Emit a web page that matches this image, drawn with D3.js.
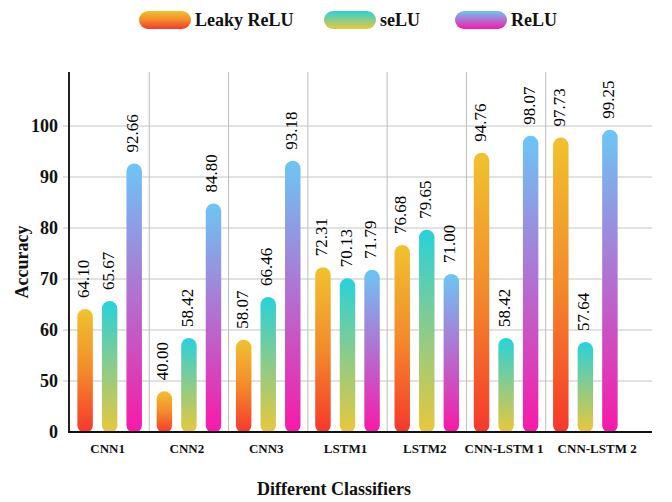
<!DOCTYPE html>
<html>
<head>
<meta charset="utf-8">
<script src="https://cdn.jsdelivr.net/npm/d3@7"></script>
<style>
  body { margin: 0; background: #fff; }
  svg text { font-family: "Liberation Serif", "Times New Roman", serif; }
</style>
</head>
<body>
<div id="chart"></div>
<script>
    const WIDTH = 672;
    const HEIGHT = 502;

    // data
    const classifiers = ["CNN1", "CNN2", "CNN3", "LSTM1", "LSTM2", "CNN-LSTM 1", "CNN-LSTM 2"];
    const seriesNames = ["Leaky ReLU", "seLU", "ReLU"];
    const leakyRelu = [64.10, 40.00, 58.07, 72.31, 76.68, 94.76, 97.73];
    const selu = [65.67, 58.42, 66.46, 70.13, 79.65, 58.42, 57.64];
    const relu = [92.66, 84.80, 93.18, 71.79, 71.00, 98.07, 99.25];
    const yTicks = [0, 50, 60, 70, 80, 90, 100];

    const seriesValues = [leakyRelu, selu, relu];
    // gradient stops top -> bottom
    const GRADIENTS = [
        ["#f0c22e", "#f38a2b", "#f6372b"],
        ["#28d2da", "#8ccb8a", "#e9c83a"],
        ["#6cc6f5", "#b36fd0", "#f918a7"]
    ];

    const svg = d3.select("#chart").append("svg")
        .attr("width", WIDTH)
        .attr("height", HEIGHT);

    const defs = svg.append("defs");
    GRADIENTS.forEach(function (stops, i) {
        var g = defs.append("linearGradient")
            .attr("id", "grad" + i)
            .attr("x1", 0).attr("y1", 0)
            .attr("x2", 0).attr("y2", 1);
        stops.forEach(function (c, j) {
            g.append("stop")
                .attr("offset", (j / (stops.length - 1) * 100) + "%")
                .attr("stop-color", c);
        });
    });

    const PLOT_L = 69, PLOT_R = 652, PLOT_T = 72, PLOT_B = 432;

    // y is broken: 0-50 squeezed into one tick step
    const y = d3.scaleLinear()
        .domain([0, 50, 110])
        .range([PLOT_B, 381, 75]);

    const x = d3.scaleBand()
        .domain(classifiers)
        .range([70, 625]);

    const xs = d3.scaleBand()
        .domain(seriesNames)
        .range([0, x.bandwidth()])
        .paddingInner(0.37)
        .paddingOuter(0.3);

    // grid lines
    svg.append("g")
        .selectAll("line")
        .data(yTicks.slice(1))
        .join("line")
        .attr("x1", PLOT_L - 6)
        .attr("x2", PLOT_R)
        .attr("y1", function (d) { return y(d); })
        .attr("y2", function (d) { return y(d); })
        .style("stroke", "#c4c4c4")
        .style("stroke-width", 1);

    svg.append("g")
        .selectAll("line")
        .data(classifiers.slice(1))
        .join("line")
        .attr("x1", function (d) { return x(d); })
        .attr("x2", function (d) { return x(d); })
        .attr("y1", PLOT_T)
        .attr("y2", PLOT_B)
        .style("stroke", "#bdbdbd")
        .style("stroke-width", 1);

    // bars
    seriesValues.forEach(function (vals, s) {
        var g = svg.append("g");
        vals.forEach(function (v, i) {
            var bx = x(classifiers[i]) + xs(seriesNames[s]);
            var bw = xs.bandwidth();
            g.append("rect")
                .attr("x", bx)
                .attr("y", y(v))
                .attr("width", bw)
                .attr("height", y(0) - y(v) + 1)
                .attr("rx", bw / 2)
                .attr("ry", bw / 2)
                .attr("fill", "url(#grad" + s + ")");

            var tx = bx + bw / 2 + 4, ty = y(v) - 11;
            g.append("text")
                .attr("transform", "translate(" + tx + "," + ty + ") rotate(-90)")
                .attr("font-size", 17)
                .attr("fill", "#000")
                .text(v.toFixed(2));
        });
    });

    // axes
    svg.append("line")
        .attr("x1", PLOT_L).attr("x2", PLOT_L)
        .attr("y1", PLOT_T).attr("y2", PLOT_B + 1)
        .style("stroke", "#222").style("stroke-width", 2);
    svg.append("line")
        .attr("x1", PLOT_L - 1).attr("x2", PLOT_R)
        .attr("y1", PLOT_B).attr("y2", PLOT_B)
        .style("stroke", "#111").style("stroke-width", 2);

    svg.append("g")
        .selectAll("text")
        .data(yTicks)
        .join("text")
        .attr("x", 58)
        .attr("y", function (d) { return y(d) + 6; })
        .attr("text-anchor", "end")
        .attr("font-size", 18)
        .attr("font-weight", "bold")
        .attr("fill", "#111")
        .text(function (d) { return d; });

    var catLabels = svg.append("g")
        .selectAll("text")
        .data(classifiers)
        .join("text")
        .attr("x", function (d) { return x(d) + x.bandwidth() / 2 - 2; })
        .attr("y", 453)
        .attr("text-anchor", "middle")
        .attr("font-size", 13)
        .attr("font-weight", "bold")
        .attr("fill", "#111")
        .text(function (d) { return d; });

    // push a label right if it runs into the previous one
    var prevRight = -Infinity;
    catLabels.each(function () {
        var box = this.getBBox();
        if (box.x < prevRight + 14) {
            var shift = prevRight + 14 - box.x;
            d3.select(this).attr("x", +d3.select(this).attr("x") + shift);
            box.x += shift;
        }
        prevRight = box.x + box.width;
    });

    svg.append("text")
        .attr("x", 334)
        .attr("y", 495)
        .attr("text-anchor", "middle")
        .attr("font-size", 18)
        .attr("font-weight", "bold")
        .attr("fill", "#111")
        .text("Different Classifiers");

    svg.append("text")
        .attr("transform", "translate(28,262) rotate(-90)")
        .attr("text-anchor", "middle")
        .attr("font-size", 18)
        .attr("font-weight", "bold")
        .attr("fill", "#111")
        .text("Accuracy");

    // legend
    const legendX = [139, 324, 455];
    seriesNames.forEach(function (name, i) {
        svg.append("rect")
            .attr("x", legendX[i])
            .attr("y", 11)
            .attr("width", 52)
            .attr("height", 18)
            .attr("rx", 9)
            .attr("fill", "url(#grad" + i + ")");
        svg.append("text")
            .attr("x", legendX[i] + 56)
            .attr("y", 26)
            .attr("font-size", 18)
            .attr("font-weight", "bold")
            .attr("fill", "#111")
            .text(name);
    });
</script>
</body>
</html>
